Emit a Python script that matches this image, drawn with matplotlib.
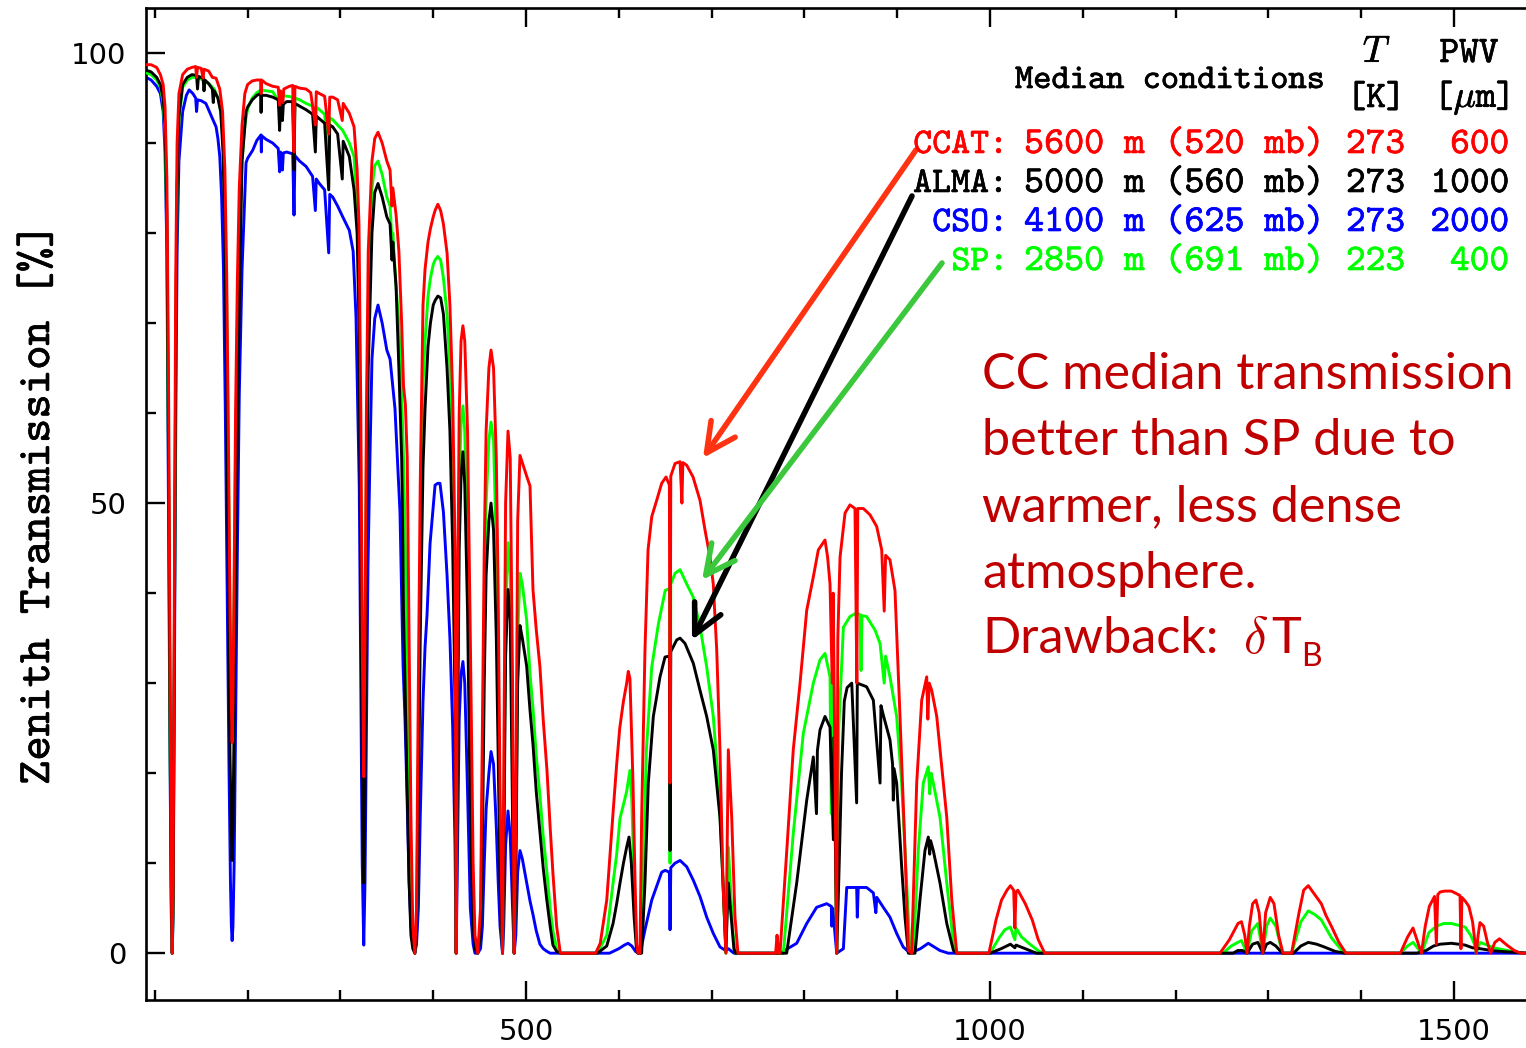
import matplotlib
matplotlib.use("Agg")
import matplotlib.pyplot as plt
import matplotlib.patheffects as pe
from matplotlib.ticker import MultipleLocator

# ---------------- data (frequency in GHz, zenith transmission in %) ----------------
ccat_f = [90.5, 96, 102, 106, 109, 111, 113, 115, 116.5, 117.8, 118.75, 119.7, 121, 122.5, 124, 126, 130, 135, 140, 144, 145, 146, 150, 152, 153, 158, 162, 166, 170, 173, 175.5, 177.5, 179.5, 181, 182.4, 183.3, 184.2, 185.5, 187, 189, 191, 194, 197, 200, 205, 210, 214, 214.5, 215, 220, 227, 233, 234.5, 235.5, 238, 239, 245, 248.6, 250, 251, 256, 263, 268, 273, 274, 277.3, 283, 287.4, 288.5, 291.7, 297, 302, 303, 309.6, 314.7, 318, 320, 322, 323.5, 325.15, 326.5, 328, 330, 334, 337, 340.5, 345, 350, 353.5, 355.6, 356.5, 360, 363, 366, 368, 370, 372, 374, 376, 378, 380.2, 382, 384, 386, 389, 391.2, 394.4, 397, 400, 402, 405, 408, 411, 414.9, 418, 421, 423.5, 424.76, 426, 428, 430, 432, 434, 437, 440, 443, 445, 448, 451, 453, 455, 457, 460, 462.3, 465, 468, 470, 472, 474.7, 476, 478, 480.6, 483, 485.5, 487.25, 489, 491, 493.5, 496, 500.7, 504.3, 507.5, 511, 515, 518.5, 522.6, 526, 529, 533, 537, 575, 580, 587, 594, 597.7, 601, 605, 608.5, 610.2, 612, 615.3, 617.5, 619.3, 620.7, 622.8, 624.6, 628.2, 631.5, 635.5, 640.8, 646.2, 650.9, 654.5, 655.2, 656, 660.6, 666, 668, 669, 673.2, 680, 687.5, 692.9, 698.3, 701.8, 705.5, 709, 712.3, 715.4, 718, 721.7, 725.2, 728.4, 769, 770.5, 772, 773.7, 781, 788, 795.3, 802.5, 809.6, 815, 822.2, 825, 827.6, 830, 831, 833, 834.8, 836, 838.4, 843.8, 849.1, 854.5, 856.5, 857.5, 863.5, 870.7, 877.9, 883.3, 886, 887.5, 892.2, 897.6, 903, 908.4, 912, 915.6, 921, 926.4, 931.8, 933, 934.5, 937.2, 942.6, 948, 953.4, 958.8, 964.2, 998.8, 1006.5, 1012.4, 1018.3, 1022, 1025.5, 1026.8, 1028, 1030, 1038, 1045.5, 1052, 1059, 1247.8, 1258, 1267.2, 1271, 1274.5, 1277, 1279.5, 1283, 1286.6, 1290, 1294, 1297, 1302, 1306, 1311, 1315.7, 1325, 1333, 1338, 1343, 1350, 1357, 1362, 1368.3, 1376, 1383.6, 1442.2, 1450, 1455.8, 1460, 1464.9, 1469, 1473.4, 1479, 1481, 1482.5, 1485, 1490, 1497, 1503, 1506.5, 1507.5, 1508.5, 1512, 1516, 1520, 1522, 1524, 1526, 1528, 1532, 1536, 1539.5, 1544, 1549, 1557, 1565, 1572, 1600]
ccat_t = [98.7, 98.7, 98.4, 97.6, 96.5, 94, 86, 60, 30, 8, 0, 8, 40, 75, 90, 95.5, 97.6, 98.2, 98.4, 98.5, 97.3, 98.4, 98.3, 97.2, 98.2, 98.0, 97.3, 97.2, 96.0, 93.5, 87, 75, 55, 38, 28, 23.4, 28, 42, 60, 75, 85, 92, 95.5, 96.5, 96.9, 97.0, 97.0, 95.5, 97.0, 96.6, 96.3, 96.2, 94.2, 95.8, 94.5, 96, 96.3, 96.4, 89, 96.3, 96.1, 96, 95.6, 92, 95.7, 95.5, 95.2, 91, 95.1, 95.1, 94.8, 92.5, 94.4, 93.3, 91.8, 87, 81, 60, 35, 19.6, 35, 60, 78, 88, 90.5, 91.2, 90, 88, 87, 83, 85, 82, 78, 70, 63, 61, 55, 35, 15, 3, 0, 5, 30, 52, 72, 76, 79, 80.5, 81.8, 82.5, 83.2, 82.5, 81, 77.8, 72, 62, 45, 0, 35, 60, 68, 69.7, 68, 58, 35, 10, 2, 0, 5, 25, 45, 58, 65, 67, 65, 55, 40, 18, 0, 20, 50, 58, 55, 30, 0, 15, 48, 55.3, 54.5, 53, 51.9, 40.4, 36, 31.8, 26, 20.3, 14, 8.9, 3, 0, 0, 1.1, 5.9, 15.9, 21, 25, 28, 30, 31.3, 30.5, 18.9, 8, 1, 0, 0, 15, 33.7, 44.8, 48.5, 50.3, 52.2, 52.9, 52, 18.9, 53, 54.4, 54.6, 50, 54.5, 54.2, 52.9, 50.3, 47, 44, 41, 33.7, 22.6, 7.8, 0, 22.6, 15, 4, 0, 0, 2, 0, 0, 11.4, 22.6, 30, 38.1, 41.8, 44.8, 45.9, 44, 41, 30, 40, 20, 0, 35, 44, 48.9, 49.8, 49.4, 30, 49.4, 49.4, 48.7, 47.4, 44.8, 38, 44.2, 43.7, 40.3, 26.3, 11.4, 0.3, 0, 18.9, 28.1, 30.7, 26, 30, 29.2, 26.3, 20.7, 15.1, 5.9, 0, 0, 3.7, 5.9, 7.0, 7.5, 7, 2.8, 6.8, 7.0, 5.5, 3.7, 1.5, 0, 0, 1.5, 3.3, 3.5, 2, 0, 3, 5.5, 5.9, 4.5, 0, 4.5, 6.2, 5.5, 2, 0, 0, 4.5, 7, 7.5, 6.5, 5.5, 4.2, 2.9, 1.2, 0, 0, 1.8, 2.8, 1.5, 0, 3, 5.2, 6.3, 1, 6.5, 6.8, 6.9, 6.9, 6.6, 6.4, 0.5, 6.2, 5.8, 5.2, 3.5, 1.8, 0, 2, 3.4, 3, 1.2, 0, 1.2, 1.6, 0.9, 0.3, 0, 0]

sp_f = [90.5, 96, 102, 106, 109, 111, 113, 115, 116.5, 117.8, 118.75, 119.7, 121, 122.5, 124, 126, 130, 135, 140, 144, 148, 152, 158, 164, 168, 171, 173.5, 175.5, 177.5, 179.5, 181, 182.4, 183.3, 184.2, 185.5, 187, 189, 191, 194, 197, 200, 205, 210, 214.4, 220, 227, 234.5, 236, 242, 248.6, 250, 251, 256, 263, 270, 273, 274, 277.3, 283, 287.4, 288.5, 291.7, 297, 302.5, 309.6, 314.7, 318, 320, 322, 323.5, 325.15, 326.5, 328, 330, 334, 337, 340.5, 345, 350, 353.5, 355.6, 356.5, 360, 363, 366, 368, 370, 372, 374, 376, 378, 380.2, 382, 384, 386, 389, 391.2, 394.4, 397, 400, 402, 405, 408, 411, 414.9, 418, 421, 423.5, 424.76, 426, 428, 430, 432, 434, 437, 440, 443, 445, 448, 451, 453, 455, 457, 460, 462.3, 465, 468, 470, 472, 474.7, 476, 478, 480.6, 483, 485.5, 487.25, 489, 491, 493.5, 496, 500.7, 504.3, 507.5, 511, 515, 518.5, 522.6, 526, 529, 533, 537, 577, 587, 593.8, 597.7, 601.3, 605, 608.5, 612, 614, 616.5, 619, 620.7, 623, 626, 629.7, 635.5, 642.7, 650, 654.5, 655.2, 656, 660.6, 666, 673.2, 680, 687.5, 694.7, 701.8, 707.2, 710.9, 714.4, 715.4, 718, 723, 726, 777.3, 788, 798.8, 809.6, 816.8, 822.2, 827.6, 829, 830, 833, 834.8, 837, 842, 849.1, 856.3, 860, 861, 862, 867, 876.1, 881.5, 886, 887.5, 892.2, 899.4, 904.8, 910.2, 913.8, 917.4, 922.7, 928.1, 933.5, 935, 936.5, 938.9, 946.1, 953.4, 960.6, 965, 1000, 1010.4, 1016, 1022, 1026.8, 1028, 1034, 1043, 1053, 1060, 1251, 1260, 1267, 1271, 1277, 1282, 1288.6, 1294, 1298, 1302, 1308, 1315, 1325, 1335, 1343, 1350, 1357, 1368, 1380, 1385, 1442, 1450, 1456, 1465, 1473, 1481, 1489, 1497, 1505, 1512, 1518, 1522, 1524, 1528, 1536, 1543, 1557, 1575, 1600]
sp_t = [97.8, 97.6, 97.0, 96.2, 94.5, 91, 80, 50, 22, 5, 0, 5, 32, 65, 85, 92.5, 96.2, 97.0, 97.3, 97.3, 97.2, 97.0, 96.6, 96, 95, 93.5, 90.5, 84, 72, 52, 38, 30, 26, 30, 40, 55, 70, 80, 88, 92, 93.8, 95, 95.6, 95.9, 95.8, 95.7, 94.5, 95.3, 95.2, 95.1, 88.5, 95, 94.8, 94.4, 94.1, 91, 94, 93.7, 93.2, 88, 92.8, 92.6, 92, 91.4, 90, 88.5, 83, 75, 52, 32, 22, 32, 55, 72, 85, 87.5, 88, 86.5, 84, 83, 79, 80, 74, 70, 62, 55, 45, 30, 15, 5, 1, 0, 3, 22, 42, 63, 68, 73, 75, 76.5, 77, 77.4, 77, 75, 71, 65, 55, 38, 0, 28, 52, 59, 60.8, 58, 45, 22, 5, 1, 0, 3, 18, 38, 50, 57, 59, 57, 45, 30, 12, 0, 14, 38, 45.6, 42, 20, 0, 10, 35, 42.2, 41, 37, 31, 27.2, 22, 17.5, 13, 8.9, 5, 2.5, 0.5, 0, 0, 2, 7.8, 11, 15, 16.5, 18, 20.3, 17, 8, 1, 0, 0, 7.8, 22.6, 31.8, 36.6, 40.3, 40.5, 10, 41, 42.2, 42.6, 41, 39.6, 36.3, 31.8, 26.3, 18.9, 11.5, 2.2, 0, 11.8, 2.2, 0, 0, 13.3, 24.4, 30, 32.6, 33.3, 30.7, 15.5, 30, 15, 0, 25, 36.2, 37.4, 37.8, 37.6, 31.4, 37.5, 37.4, 35.9, 34.4, 30, 33, 30.7, 26.3, 18.9, 7.8, 0.3, 0, 11.4, 18.9, 20.7, 17.7, 20, 18.9, 15.1, 7.8, 1.1, 0, 0, 1.8, 2.6, 2.9, 1.5, 2.8, 1.8, 1, 0.2, 0, 0, 0.8, 1.2, 1.4, 0, 2.5, 3.3, 0, 3, 3.9, 3, 0, 0, 3.5, 4.7, 4.3, 3.7, 1.7, 0.2, 0, 0, 0.8, 1.2, 0, 2.3, 3, 3.3, 3.3, 3.1, 2.9, 2, 1, 0, 1.2, 0.9, 0.6, 0.3, 0, 0]

alma_f = [90.5, 96, 102, 106, 109, 111, 113, 115, 116.5, 117.8, 118.75, 119.7, 121, 122.5, 124, 126, 130, 135, 140, 145, 146, 147, 152, 153, 154, 158, 162, 163, 164, 168, 171, 173.5, 175.5, 177.5, 179.5, 181, 182.4, 183.3, 184.2, 185.5, 187, 189, 191, 194, 198.3, 200, 205, 210, 214, 214.5, 215, 220, 227, 233, 234.5, 235.5, 237.5, 238.5, 242, 248.6, 250, 251, 256, 263, 270, 273, 274, 277.3, 283, 287.4, 288.5, 291.7, 297, 302, 303, 309.6, 314.7, 318, 320, 322, 323.5, 325.15, 326.5, 328, 330, 334, 337, 340.5, 345, 350, 353.5, 355.6, 356.5, 360, 363, 366, 367, 368, 370, 372, 374, 376, 378, 380.2, 382, 384, 386, 389, 391.2, 394.4, 397, 400, 402, 405, 408, 411, 414.9, 418, 421, 423.5, 424.76, 426, 428, 430, 432, 434, 437, 440, 443, 445, 448, 451, 453, 455, 457, 460, 462.3, 465, 468, 470, 472, 474.7, 476, 478, 480.6, 483, 485.5, 487.25, 489, 491, 493.5, 496, 500.7, 504.3, 507.5, 511, 515, 518.5, 522.3, 526, 529, 533, 537, 577, 587, 593.8, 597.7, 601.3, 605, 608.5, 611, 613.5, 616.5, 619, 620.7, 624.6, 628.2, 631.8, 637.2, 644.4, 649.8, 654.5, 655.2, 656, 662.4, 666, 671.4, 680.3, 687.5, 694.7, 701.8, 709, 712.3, 715.4, 718, 724, 726, 780.9, 791.7, 802.5, 809.6, 813, 814, 816.8, 822.2, 827.6, 831.2, 832, 834.8, 837, 840, 843, 846, 851, 856.3, 857, 862, 867, 874.3, 881.5, 882.5, 885.4, 892.2, 895, 895.8, 896.6, 899.4, 904.8, 908.4, 912, 919.2, 924.5, 929.9, 933.5, 935, 936, 938.9, 946.1, 953.4, 960.6, 964, 1000, 1012, 1022, 1026.8, 1028, 1038, 1050, 1262, 1267, 1272, 1277, 1283, 1288.6, 1294, 1298, 1302, 1308, 1315, 1327, 1335, 1343, 1352, 1360, 1372, 1382, 1460, 1470, 1478, 1485, 1497, 1505, 1512, 1520, 1528, 1540, 1550, 1580, 1600]
alma_t = [98.1, 97.9, 97.3, 96.5, 95, 92, 82, 52, 24, 6, 0, 6, 34, 66, 85, 93, 96.5, 97.3, 97.6, 97.5, 96, 97.4, 97.2, 95.8, 97, 96.6, 96, 94.5, 95.8, 95, 93.5, 89, 80, 62, 38, 22, 14, 10.3, 14, 26, 42, 58, 72, 88, 93.5, 94, 94.8, 95.3, 95.5, 93.4, 95.3, 95.3, 95.1, 94.8, 91.4, 94.5, 92.5, 94.3, 94.6, 94.6, 87, 94.4, 94.1, 93.7, 93.2, 89, 93, 92.7, 92.2, 84.8, 92, 91.8, 91, 86, 90.2, 88.5, 84.8, 80, 70, 42, 20, 7.8, 18, 45, 65, 80, 84.5, 85.5, 84, 81.8, 81, 77, 79, 74, 65, 55, 48, 38, 28, 18, 8, 2, 0.5, 0, 2, 15, 35, 54, 60.5, 67.4, 70, 72, 72.5, 73, 72.8, 71, 65, 58, 45, 28, 0, 20, 45, 53, 55.7, 52, 38, 15, 3, 0.5, 0, 2, 12, 30, 42, 48, 50, 47, 35, 22, 8, 0, 10, 33, 40.4, 37, 15, 0, 8, 30, 36.4, 35, 31.9, 27, 23.2, 18, 13.4, 9.5, 6, 3, 0.9, 0.2, 0, 0, 0.8, 3.3, 5.5, 7.8, 10, 11.8, 12.9, 10, 4, 0.5, 0, 0, 7.8, 18.9, 26.3, 30.7, 32.9, 33, 11.4, 33.5, 34.8, 35, 34.4, 32.2, 29.2, 26.3, 22.6, 15.1, 7.8, 0.2, 7.8, 0.5, 0, 0, 7.8, 17, 21.8, 15.5, 22.5, 24.8, 26.3, 25.1, 12.6, 24, 0, 8, 20, 28, 29.5, 30, 16.7, 30, 29.8, 29.6, 28.1, 18.9, 27.5, 26.3, 23.7, 21, 17, 20.5, 18.9, 9.6, 4, 0, 0, 5.9, 11.4, 12.9, 11, 12.5, 11.4, 7.8, 3.3, 0.3, 0, 0, 0.5, 1.0, 0.6, 0.9, 0.5, 0, 0, 0.3, 0.3, 0, 1, 1.2, 0, 1, 1.2, 0.8, 0, 0, 0.8, 1.2, 1, 0.7, 0.2, 0, 0, 0.3, 0.8, 1.0, 1.1, 1.0, 0.9, 0.6, 0.5, 0.3, 0.2, 0, 0]

cso_f = [90.5, 96, 102, 106, 109, 111, 113, 115, 116.5, 117.8, 118.75, 119.7, 121, 122.5, 124, 126, 130, 134, 137, 141, 144, 145, 146, 150, 155, 160, 163, 166, 168, 170, 172, 174, 176, 178, 180, 181.5, 182.5, 183.3, 184.2, 185.5, 187, 189, 191, 194, 198.3, 200, 205.5, 210, 214.4, 214.8, 215.2, 220, 227, 233, 234.5, 235.5, 237.5, 238.5, 242, 248.6, 250, 251, 256, 263, 270, 273, 274, 277.3, 283, 287.4, 288.5, 291.7, 297, 302.5, 309.6, 313.7, 316.8, 320.3, 322, 323.5, 325.15, 326.5, 328, 329.7, 332, 334, 337, 340.5, 345, 350, 353.5, 358.8, 364.2, 366.4, 367.5, 369.6, 371.8, 374, 376, 378, 380.2, 382, 384, 386, 389, 391.2, 393.3, 396.6, 402, 405, 407.3, 411, 414.9, 418, 421, 423.5, 424.76, 426, 428, 430, 432, 434, 437, 440, 443, 445, 448, 451, 453, 455, 457, 460, 462.3, 465, 468, 470, 472, 474.7, 476, 478, 480.6, 483, 485.5, 487.25, 489, 491, 493.5, 496, 500.7, 504.3, 507.5, 511, 515, 518.5, 522.6, 526, 590, 600, 606, 610, 614, 618, 620.7, 623, 628.2, 635.5, 646.2, 650, 654.5, 655.2, 656, 660.6, 666, 673.2, 680.3, 687.5, 694.7, 701.8, 709, 715, 718, 724, 773.7, 791.7, 802.5, 813.2, 824, 829, 829.5, 830.5, 834.8, 842, 845.6, 856.3, 857, 858, 867, 874.3, 877, 878, 885, 892.2, 899.4, 906.4, 913.8, 925, 933.5, 946, 955, 1600]
cso_t = [97.3, 97.0, 96.3, 95.5, 93.5, 89, 78, 45, 20, 4, 0, 4, 28, 58, 78, 88, 93.5, 95.3, 95.9, 95.5, 95, 93.5, 94.8, 94.7, 94.4, 93.2, 92.5, 91.8, 90.5, 88.5, 84, 76, 60, 40, 20, 8, 3, 1.4, 3, 10, 25, 45, 62, 76, 87.8, 88.3, 89.2, 90.3, 90.9, 89, 90.8, 90.4, 90, 89.4, 86.8, 89, 87, 88.9, 89, 88.8, 82, 88.6, 88, 87.4, 86.3, 82.5, 86, 85.5, 84.8, 77.8, 84.3, 84, 83, 81.8, 80.3, 78, 70.7, 52, 30, 10, 0.9, 8, 25, 43, 56, 66, 70.5, 72, 70, 67, 66, 60.5, 49, 38, 32, 26, 17.4, 8, 3, 1, 0, 1, 5, 15, 28, 34, 37.5, 45.5, 52, 52.2, 52.2, 49, 42, 35, 25, 12, 0, 10, 26, 31, 32.4, 30, 18, 5, 1, 0, 0, 0.5, 3, 10, 16, 20, 22.4, 21, 14, 8, 3, 0, 3, 12, 15.8, 13, 5, 0, 2, 9, 11.4, 10.5, 7.8, 5.8, 4.3, 2.5, 1, 0.5, 0.2, 0, 0, 0.5, 0.9, 1.1, 0.8, 0.2, 0, 0, 2.6, 5.9, 9, 9.2, 9, 2.6, 9.5, 10, 10.3, 9.6, 8.1, 6.3, 4, 2.2, 0.7, 0.3, 0.5, 0, 0, 1.1, 3.3, 5.1, 5.5, 5.2, 3, 5, 0, 0.5, 7.3, 7.3, 4, 7.3, 7.3, 6.7, 4.5, 6.2, 5.1, 4, 2.2, 0.7, 0, 0.5, 1.1, 0.3, 0, 0]

# legend table
site_names = ["CCAT:", "ALMA:", "CSO:", "SP:"]
site_alt = ["5600 m (520 mb)", "5000 m (560 mb)", "4100 m (625 mb)", "2850 m (691 mb)"]
site_temp = ["273", "273", "273", "223"]
site_pwv = ["600", "1000", "2000", "400"]
site_colors = ["#FF0000", "#000000", "#0000FF", "#00FF00"]

note_lines = ["CC median transmission", "better than SP due to",
              "warmer, less dense", "atmosphere."]

# ---------------- figure ----------------
W, H = 1526, 1048
fig = plt.figure(figsize=(W / 100, H / 100), dpi=100)
ax = fig.add_axes([146 / W, (H - 1000) / H, 1400.8 / W, 992 / H])


def fx(x):
    return x / W


def fy(y):
    return 1 - y / H


lw = 2.1
ax.plot(cso_f, cso_t, color="#0000FF", lw=lw, zorder=2)
ax.plot(sp_f, sp_t, color="#00FF00", lw=lw, zorder=3)
ax.plot(alma_f, alma_t, color="#000000", lw=lw, zorder=4)
ax.plot(ccat_f, ccat_t, color="#FF0000", lw=lw, zorder=5)

ax.set_xlim(90.5, 1600)
ax.set_ylim(-5.2, 105)
ax.set_xticks([500, 1000, 1500])
ax.xaxis.set_minor_locator(MultipleLocator(100))
ax.set_yticks([0, 50, 100])
ax.yaxis.set_minor_locator(MultipleLocator(10))
for s in ax.spines.values():
    s.set_linewidth(1.9)
ax.spines["right"].set_visible(False)
ax.tick_params(which="both", direction="in", top=True, right=False, width=1.7)
ax.tick_params(which="major", length=13.5)
ax.tick_params(which="minor", length=7.5)
ax.tick_params(axis="y", which="major", pad=14)
ax.tick_params(axis="x", which="major", pad=13)
for lab in ax.get_xticklabels() + ax.get_yticklabels():
    lab.set_fontfamily("DejaVu Sans")
    lab.set_fontsize(21)

tt = "cmtt10"


def heavy(c):
    return [pe.withStroke(linewidth=0.45, foreground=c)]


fig.text(fx(40), fy(504), "Zenith Transmission [%]", rotation=90, family=tt,
         fontsize=33.5, ha="center", va="center", path_effects=heavy("black"))

# table
fs = 27
fig.text(fx(1015), fy(88), "Median conditions", family=tt, fontsize=25, ha="left", va="baseline",
         path_effects=heavy("black"))
fig.text(fx(1377), fy(62), "$T$", family=tt, fontsize=fs, ha="center", va="baseline",
         math_fontfamily="cm", path_effects=heavy("black"))
fig.text(fx(1376), fy(107), "[K]", family=tt, fontsize=fs, ha="center", va="baseline",
         path_effects=heavy("black"))
fig.text(fx(1469), fy(62), "PWV", family=tt, fontsize=fs, ha="center", va="baseline",
         path_effects=heavy("black"))
fig.text(fx(1509), fy(107), r"[$\mu$m]", family=tt, fontsize=fs, ha="right", va="baseline",
         math_fontfamily="cm", path_effects=heavy("black"))
row_y = [153, 192, 231, 270]
for i in range(4):
    c = site_colors[i]
    fig.text(fx(1008), fy(row_y[i]), site_names[i], family=tt, fontsize=26, color=c,
             ha="right", va="baseline", path_effects=heavy(c))
    fig.text(fx(1024), fy(row_y[i]), site_alt[i], family=tt, fontsize=27.5, color=c,
             ha="left", va="baseline", path_effects=heavy(c))
    fig.text(fx(1346), fy(row_y[i]), site_temp[i], family=tt, fontsize=fs, color=c,
             ha="left", va="baseline", path_effects=heavy(c))
    fig.text(fx(1509), fy(row_y[i]), site_pwv[i], family=tt, fontsize=fs, color=c,
             ha="right", va="baseline", path_effects=heavy(c))

# note
note_color = "#C00000"
nfs = 36.3
note_y = [389, 455, 521, 588]
for t, y in zip(note_lines, note_y):
    fig.text(fx(982), fy(y), t, family="Lato", fontsize=nfs, color=note_color, ha="left", va="baseline")
fig.text(fx(982), fy(653), "Drawback:", family="Lato", fontsize=nfs, color=note_color,
         ha="left", va="baseline")
fig.text(fx(1243), fy(653), r"$\delta$", fontsize=37, color=note_color, ha="left", va="baseline",
         math_fontfamily="cm")
fig.text(fx(1271), fy(653), "T", family="Lato", fontsize=nfs, color=note_color, ha="left", va="baseline")
fig.text(fx(1301), fy(666), "B", family="Lato", fontsize=23, color=note_color, ha="left", va="baseline")

# arrows (figure pixel coordinates, y from top)
arrows = [((916, 150), (703, 458), "#FF3311"),
          ((912, 196), (692, 640), "#000000"),
          ((942, 263), (702, 580), "#3CC83C")]
for (x0, y0), (x1, y1), c in arrows:
    ax.annotate("", xy=(fx(x1), fy(y1)), xytext=(fx(x0), fy(y0)),
                xycoords="figure fraction", textcoords="figure fraction",
                arrowprops=dict(arrowstyle="->,head_length=0.7,head_width=0.35", color=c, lw=4,
                                shrinkA=0, shrinkB=0, mutation_scale=30), zorder=10)

fig.savefig("out.png", dpi=100)
